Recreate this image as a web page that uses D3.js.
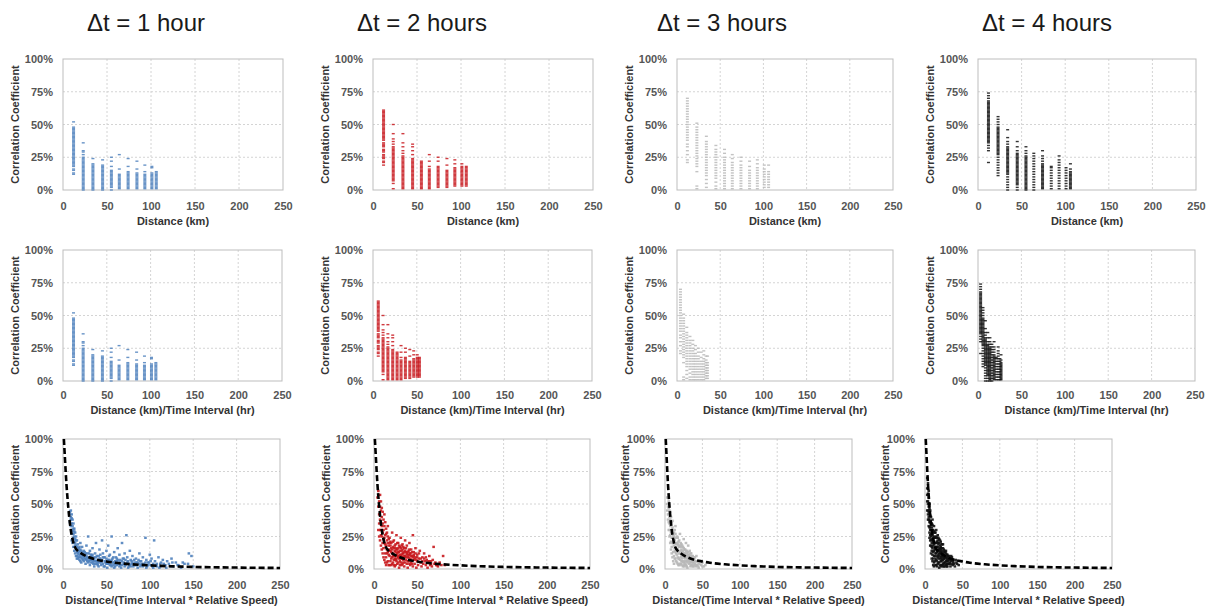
<!DOCTYPE html>
<html>
<head>
<meta charset="utf-8">
<script src="https://cdn.jsdelivr.net/npm/d3@7"></script>
<style>
  html, body { margin: 0; padding: 0; background: #fff; }
  svg { display: block; }
  .tick text { font-family: "Liberation Sans", Arial, sans-serif; font-size: 11px; font-weight: bold; fill: #555; }
  .axis-title { font-family: "Liberation Sans", Arial, sans-serif; font-size: 11px; font-weight: bold; fill: #333; }
  .col-title { font-family: "Liberation Sans", Arial, sans-serif; font-size: 24px; fill: #1a1a1a; }
</style>
</head>
<body>
<svg id="chart" width="1207" height="611"></svg>
<script>
// ---- data ---------------------------------------------------------------
const intervalsHr = [1, 2, 3, 4];
const columnTitles = ["Δt = 1 hour", "Δt = 2 hours", "Δt = 3 hours", "Δt = 4 hours"];
const seriesColors = ["#4f81bd", "#c8191e", "#b8b8b8", "#111111"];
const xTickValues = [0, 50, 100, 150, 200, 250];
const yTickValues = [0, 25, 50, 75, 100];
const yAxisTitle = "Correlation Coefficient";
const xAxisTitles = ["Distance (km)", "Distance (km)/Time Interval (hr)", "Distance/(Time Interval * Relative Speed)"];

// station separation distances (km)
const stationKm = [12, 23, 34, 45, 55, 64, 74, 84, 93, 101, 106];

// correlation coefficient (%) of each station pair, grouped by separation distance
const corr1h = [
  [12,13,15,16,18,19,20,21,22,23,24,25,26,27,28,29,30,31,32,33,34,35,36,37,38,39,40,41,42,43,44,45,46,47,48,52],
  [0,1,2,3,4,5,6,7,8,9,10,11,12,13,14,15,16,17,18,19,20,21,22,23,24,25,27,29,30,36],
  [0,1,2,3,4,5,6,7,8,9,10,11,12,13,14,15,16,17,18,19,20,24],
  [0,1,2,3,4,5,6,7,8,9,10,11,12,13,14,15,16,17,18,19,23],
  [0,2,3,4,5,6,7,8,9,10,11,12,13,14,15,18,22,25],
  [1,2,3,4,5,6,7,8,9,10,11,12,16,27],
  [1,2,3,4,5,6,7,8,9,10,11,12,13,14,18,24],
  [1,2,3,4,5,6,7,8,9,10,11,12,13,16,22],
  [1,2,3,4,5,6,7,8,9,10,11,12,14,19],
  [1,2,3,4,5,6,7,8,9,10,11,12,13,17,18],
  [1,2,3,4,5,6,7,8,9,10,11,12,13,14]
];
const corr2h = [
  [19,21,22,24,25,26,27,29,30,31,33,34,35,36,38,39,40,41,42,43,44,45,46,47,48,49,50,51,52,53,54,55,56,57,58,59,60,61],
  [1,5,7,8,9,10,11,12,13,14,15,16,17,18,19,20,21,22,23,24,25,26,27,28,29,30,31,32,33,35,37,39,43,50],
  [1,2,3,4,5,6,7,8,9,10,11,12,13,14,15,16,17,18,19,20,21,22,23,24,25,26,28,30,33,36,43],
  [1,2,3,4,5,6,7,8,9,10,11,12,13,14,15,16,17,18,19,20,21,22,23,24,27,30,33,35],
  [1,2,3,4,5,6,7,8,9,10,11,12,13,14,15,16,17,18,19,20,21,22],
  [1,2,3,4,5,6,7,8,9,10,11,12,13,14,15,16,18,22,27],
  [2,3,4,5,6,7,8,9,10,11,12,13,14,15,16,17,18,22,25],
  [2,3,4,5,6,7,8,9,10,11,12,13,14,15,19,24],
  [3,4,5,6,7,8,9,10,11,12,13,14,15,16,17,20,23],
  [3,4,5,6,7,8,9,10,11,12,13,14,15,16,17,18,20],
  [3,4,5,6,7,8,9,10,11,12,13,14,15,16,17,18]
];
const corr3h = [
  [21,23,27,30,33,35,38,40,42,44,46,48,50,52,54,56,58,60,62,64,66,68,70],
  [1,3,14,18,20,22,24,26,28,30,32,34,36,38,40,42,44,46,48,51],
  [2,5,8,11,13,15,17,19,21,23,25,27,29,31,33,35,37,41],
  [1,3,6,9,11,13,15,17,19,21,23,25,27,29,31,34],
  [1,3,5,7,9,11,13,15,17,19,21,23,25,28,31],
  [1,3,5,7,9,11,13,15,17,19,21,24,27],
  [1,3,5,7,9,11,13,15,17,19,22,25],
  [1,3,5,7,9,11,13,15,18,22],
  [1,3,5,7,9,11,13,15,17,20,23],
  [2,4,6,8,10,12,14,16,19],
  [2,4,6,8,10,12,14,19]
];
const corr4h = [
  [21,30,32,34,36,37,38,39,40,41,42,43,44,45,46,47,48,49,50,51,52,53,54,55,56,57,58,59,60,61,62,63,64,65,66,67,68,70,72,74],
  [11,13,15,17,19,21,23,25,27,28,29,30,31,32,33,34,35,36,37,38,39,40,41,42,43,44,45,46,47,48,50,52,54,56],
  [0,2,4,6,8,10,12,13,14,15,16,17,18,19,20,21,22,23,24,25,26,27,28,29,30,31,32,33,35,37,40,46],
  [0,2,4,5,6,7,8,9,10,11,12,13,14,15,16,17,18,19,20,21,22,23,24,25,26,27,28,30,33,37],
  [0,1,2,3,4,5,6,7,8,9,10,11,12,13,14,15,16,17,18,19,20,21,22,23,24,25,26,28,30,33],
  [0,2,4,6,8,10,12,14,16,18,20,22,24,26,28],
  [1,2,3,4,5,6,7,8,9,10,11,12,13,14,15,16,17,18,19,20,22,24,26,30],
  [1,3,5,7,9,11,13,15,17,18],
  [1,3,5,7,9,11,13,15,17,19,21,23,26],
  [1,3,5,7,9,11,13,15,17],
  [1,2,3,4,5,6,7,8,9,10,11,12,13,14,16,20]
];

// [distance/(interval * relative speed), correlation %]
const speedScaled1h = [
  [8,44],[9,40],[8,36],[10,42],[9,33],[11,38],[10,30],[12,35],[11,27],[13,31],[12,24],[14,28],[13,21],[15,25],[14,18],[16,22],[15,15],[17,19],[18,16],[16,13],
  [8,42],[9,45],[9,38],[10,35],[10,39],[11,33],[11,29],[12,31],[12,27],[13,25],[13,29],[14,23],[14,20],[15,18],[16,17],[17,15],[18,13],[19,17],[20,15],[21,9],
  [19,14],[20,20],[21,12],[22,17],[23,10],[24,14],[25,8],[26,12],[27,18],[28,9],[29,25],[30,6],[31,14],[32,11],[33,7],[34,16],[35,4],[36,9],[37,12],[38,20],
  [39,6],[40,3],[41,10],[42,15],[43,8],[44,5],[45,22],[46,12],[47,2],[48,9],[49,6],[50,14],[51,4],[52,18],[53,7],[54,11],[55,3],[56,25],[57,8],[58,5],
  [59,13],[60,2],[61,9],[62,6],[63,16],[64,4],[65,11],[66,7],[67,1],[68,20],[69,8],[70,5],[71,12],[72,3],[73,26],[74,9],[75,6],[76,2],[77,14],[78,7],
  [79,4],[80,10],[82,3],[84,8],[85,5],[86,1],[88,12],[89,6],[90,3],[92,9],[93,4],[95,24],[96,7],[97,2],[98,5],[100,11],[101,3],[102,8],[104,1],[105,22],
  [106,6],[108,4],[110,9],[112,2],[113,5],[115,7],[117,3],[119,1],[120,6],[122,4],[125,8],[127,2],[130,5],[133,3],[136,1],[140,4],[144,4],[145,12],[148,10],[150,2],
  [15,10],[16,8],[17,12],[18,9],[19,7],[20,11],[21,5],[22,8],[23,13],[24,6],[25,11],[26,4],[27,7],[28,12],[29,5],[30,9],[31,3],[32,7],[33,10],[34,5],
  [35,8],[36,2],[37,6],[38,9],[39,4],[40,7],[41,2],[42,5],[43,11],[44,3],[45,7],[46,4],[47,9],[48,2],[49,5],[50,8],[51,1],[52,4],[53,10],[54,3],
  [55,6],[56,2],[57,5],[58,9],[59,1],[60,4],[62,3],[63,7],[65,2],[66,5],[68,3],[70,8],[71,2],[73,4],[75,1],[77,3],[79,6],[81,2],[83,5],[85,3],
  [87,7],[89,2],[91,4],[94,3],[96,1],[99,5],[103,2],[107,3],[111,1],[116,4],[124,2],[132,3],[138,5],
  [10,22],[11,20],[12,17],[13,14],[14,12],[15,22],[16,10],[17,8],[18,11],[19,9],[20,6],[21,14],[22,11],[23,7],[24,9],[25,13],[26,8],[27,10],[28,6],[29,8],
  [30,12],[31,7],[32,5],[33,9],[34,11],[35,6],[36,7],[37,4],[38,6],[39,10],[40,5],[42,8],[44,6],[46,9],[48,6],[50,4],[52,7],[54,5],[56,7],[58,3],
  [60,6],[62,8],[64,5],[66,3],[68,6],[70,4],[72,7],[74,5],[76,4],[78,2],[80,5],[82,7],[84,3],[86,5],[88,4],[90,6],[92,2],[95,5],[98,3],[101,6],
  [104,4],[108,2],[112,4],[118,3],[126,5],[134,2]
];
const speedScaled2h = [
  [4,55],[5,60],[5,48],[6,52],[6,42],[7,57],[7,38],[8,45],[8,30],[9,40],[9,25],[10,35],[10,20],[11,30],[11,16],[12,42],[12,24],[13,19],[13,12],[14,27],
  [14,9],[15,22],[15,15],[16,33],[16,6],[17,18],[17,11],[18,24],[18,3],[19,14],[20,20],[20,8],[21,28],[21,12],[22,5],[22,17],[23,10],[23,22],[24,2],[24,14],
  [25,7],[25,19],[26,11],[26,26],[27,4],[27,15],[28,9],[28,20],[29,1],[29,13],[30,6],[30,17],[31,10],[31,24],[32,3],[32,14],[33,8],[33,19],[34,12],[34,5],
  [35,16],[35,2],[36,10],[36,22],[37,7],[37,13],[38,4],[38,18],[39,9],[39,1],[40,14],[40,6],[41,11],[41,20],[42,3],[42,8],[43,15],[43,5],[44,10],[45,26],
  [45,2],[46,7],[46,13],[47,4],[48,9],[48,16],[49,1],[50,6],[50,11],[51,3],[52,8],[53,14],[54,5],[55,2],[56,9],[57,4],[58,12],[59,6],[60,3],[61,7],
  [62,1],[63,5],[64,10],[65,3],[66,6],[67,2],[69,17],[70,4],[72,3],[74,2],[76,5],[78,3],[80,10],[82,3],
  [6,35],[7,30],[8,26],[9,33],[10,28],[11,23],[12,20],[13,26],[14,18],[15,12],[16,20],[17,15],[18,10],[19,21],[20,13],[21,9],[22,12],[23,7],[24,10],[25,13],
  [26,6],[27,10],[28,13],[29,8],[30,11],[31,5],[32,9],[33,12],[34,7],[35,10],[36,5],[37,9],[38,12],[39,6],[40,9],[41,4],[42,12],[43,7],[44,4],[46,10],
  [5,30],[6,25],[7,22],[7,48],[8,18],[8,52],[9,15],[9,47],[10,12],[10,44],[11,9],[11,38],[12,7],[12,33],[13,5],[13,36],[14,3],[14,31],[15,28],[15,5],
  [16,25],[16,13],[17,23],[17,3],[18,20],[18,14],[19,18],[19,6],[20,16],[20,3],[21,15],[21,4],[22,21],[22,10],[23,16],[23,3],[24,18],[24,8],[25,16],[25,3],
  [26,15],[26,8],[27,20],[27,12],[28,16],[28,5],[29,18],[29,10],[30,14],[30,3],[31,16],[31,8],[32,18],[32,11],[33,15],[33,4],[34,17],[34,9],[35,13],[36,14],
  [37,16],[38,11],[39,13],[40,11],[41,15],[42,12],[43,10],[44,13],[45,9],[46,11],[47,8],[48,12],[49,7],[50,9],[52,12],[54,8],[56,6],[58,8],[60,9],[62,5],
  [64,6],[66,4],[68,7],[71,5],[73,3]
];
const speedScaled3h = [
  [3,50],[4,55],[4,42],[5,47],[5,36],[6,40],[6,30],[7,44],[7,26],[8,34],[8,21],[9,30],[9,17],[10,37],[10,24],[11,20],[11,13],[12,28],[12,10],[13,22],
  [13,16],[14,33],[14,8],[15,19],[15,12],[16,25],[16,5],[17,15],[17,9],[18,21],[18,3],[19,12],[19,17],[20,7],[20,27],[21,14],[21,4],[22,10],[22,19],[23,6],
  [23,13],[24,2],[24,17],[25,9],[25,23],[26,5],[26,12],[27,8],[27,15],[28,3],[28,20],[29,10],[29,6],[30,13],[30,1],[31,8],[31,18],[32,4],[32,11],[33,7],
  [33,14],[34,2],[34,9],[35,5],[35,12],[36,3],[36,8],[37,10],[38,5],[38,2],[39,7],[40,4],[40,9],[41,2],[42,6],[43,3],[44,5],[45,1],[46,4],[48,3],
  [50,5],[52,2],[54,3],
  [5,42],[6,35],[7,33],[8,28],[9,24],[10,20],[11,26],[12,18],[13,14],[14,20],[15,16],[16,11],[17,19],[18,14],[19,8],[20,12],[21,17],[22,6],[23,10],[24,12],
  [25,6],[26,9],[27,11],[28,6],[29,14],[30,8],[31,11],[32,6],[33,10],[34,12],[35,8],[36,10],[37,5],[39,9],[41,6],[42,10],
  [3,55],[3,45],[4,48],[4,38],[5,52],[5,30],[6,45],[6,25],[7,38],[7,20],[8,40],[8,15],[9,36],[9,12],[10,32],[10,9],[11,30],[11,6],[12,25],[12,4],
  [13,30],[13,8],[14,27],[14,13],[15,24],[15,6],[16,20],[16,15],[17,24],[17,4],[18,18],[18,8],[19,22],[19,3],[20,18],[20,4],[21,20],[21,9],[22,15],[22,3],
  [23,18],[23,8],[24,14],[24,5],[25,16],[25,3],[26,15],[26,2],[27,12],[27,4],[28,14],[28,9],[29,12],[29,2],[30,10],[30,5],[31,13],[32,9],[33,5],[34,6],
  [35,3],[36,6],[37,2],[38,8],[39,3],[40,6],[42,3],[44,2],[46,6],[50,2]
];
const speedScaled4h = [
  [3,62],[3,52],[4,58],[4,45],[4,38],[5,55],[5,48],[5,33],[6,50],[6,42],[6,28],[7,45],[7,36],[7,22],[8,40],[8,30],[8,18],[9,35],[9,26],[9,14],
  [10,38],[10,22],[10,11],[11,30],[11,18],[11,8],[12,33],[12,25],[12,14],[12,5],[13,28],[13,20],[13,10],[14,24],[14,16],[14,3],[15,30],[15,12],[15,7],[16,21],
  [16,17],[16,2],[17,14],[17,9],[17,26],[18,19],[18,11],[18,5],[19,23],[19,15],[19,1],[20,12],[20,8],[20,18],[21,21],[21,6],[21,13],[22,10],[22,3],[22,16],
  [23,19],[23,7],[24,12],[24,4],[24,9],[25,15],[25,2],[26,8],[26,11],[27,5],[27,13],[28,3],[28,9],[29,6],[29,11],[30,2],[30,7],[31,10],[32,4],[33,8],
  [34,2],[35,6],[36,9],[37,3],[38,5],[40,2],[41,7],[43,4],[45,3],
  [4,50],[5,40],[6,36],[7,30],[8,25],[9,20],[10,30],[11,24],[12,19],[13,15],[14,12],[15,20],[16,13],[17,20],[18,15],[19,10],[20,14],[21,17],[22,8],[23,12],
  [24,16],[25,8],[26,13],[27,9],[28,12],[29,4],[30,9],[31,6],[32,8],[33,4],[35,10],[37,6],[39,4],
  [3,70],[3,57],[3,45],[4,66],[4,52],[4,42],[5,60],[5,44],[5,38],[6,46],[6,38],[6,32],[6,24],[7,41],[7,32],[7,26],[7,18],[8,35],[8,27],[8,22],
  [8,12],[9,32],[9,23],[9,17],[9,8],[10,34],[10,26],[10,16],[10,6],[11,28],[11,22],[11,13],[11,3],[12,29],[12,21],[12,10],[12,2],[13,24],[13,17],[13,6],
  [14,28],[14,20],[14,8],[15,25],[15,17],[15,3],[16,24],[16,10],[16,6],[17,22],[17,17],[17,4],[18,24],[18,14],[18,8],[19,20],[19,12],[19,5],[20,22],[20,16],
  [20,3],[21,15],[21,9],[21,2],[22,19],[22,13],[22,6],[23,14],[23,10],[23,3],[24,19],[24,7],[24,2],[25,11],[25,5],[26,14],[26,4],[27,10],[27,2],[28,14],
  [28,6],[29,8],[29,2],[30,11],[30,4],[31,7],[32,10],[33,5],[34,7],[36,4],[38,7],[42,5]
];

// fitted decay curve [scaled distance, correlation %]
const fitCurve = [
  [1,100],[2,88],[3,76],[4,65],[5,56],[6,48],[7,41],[8,35],[9,30],[10,26],[11,23],[12,20],[14,16.5],[17,14],[20,12.5],
  [25,10.5],[30,9],[40,7],[50,5.8],[60,4.8],[80,3.6],[100,2.8],[120,2.2],[150,1.6],[200,1.1],[250,0.8]
];

const byStation = [corr1h, corr2h, corr3h, corr4h];
const bySpeed = [speedScaled1h, speedScaled2h, speedScaled3h, speedScaled4h];

// ---- layout -------------------------------------------------------------
const rowY = [[59, 190], [250, 381], [439, 569]];
const rowX = [
  [[63, 283], [373, 593], [677, 893], [978, 1196]],
  [[63, 282], [373, 592], [677, 893], [978, 1195]],
  [[63, 280], [374, 590], [665, 852], [925, 1112]]
];
const titleCenters = [146, 422, 722, 1047];
const xTitleOffset = [35, 33, 35];

const svg = d3.select("#chart");

columnTitles.forEach((t, c) => {
  svg.append("text").attr("class", "col-title")
    .attr("x", titleCenters[c]).attr("y", 31)
    .attr("text-anchor", "middle").text(t);
});

function drawPanel(row, col) {
  const [x0, x1] = rowX[row][col];
  const [y0, y1] = rowY[row];
  const x = d3.scaleLinear().domain([0, 250]).range([x0, x1]);
  const y = d3.scaleLinear().domain([0, 100]).range([y1, y0]);
  const g = svg.append("g");
  const color = seriesColors[col];

  // gridlines
  g.selectAll(".vgrid").data(xTickValues.slice(1, -1)).join("line")
    .attr("x1", d => x(d)).attr("x2", d => x(d)).attr("y1", y0).attr("y2", y1)
    .attr("stroke", "#d4d4d4").attr("stroke-dasharray", "2,2");
  g.selectAll(".hgrid").data(yTickValues.slice(1, -1)).join("line")
    .attr("x1", x0).attr("x2", x1).attr("y1", d => y(d)).attr("y2", d => y(d))
    .attr("stroke", "#d4d4d4").attr("stroke-dasharray", "2,2");
  g.append("rect").attr("x", x0).attr("y", y0).attr("width", x1 - x0).attr("height", y1 - y0)
    .attr("fill", "none").attr("stroke", "#bdbdbd");

  // points
  let pts;
  if (row < 2) {
    const div = row === 0 ? 1 : intervalsHr[col];
    pts = byStation[col].flatMap((vals, i) => vals.map(v => [stationKm[i] / div, v]));
  } else {
    pts = bySpeed[col];
  }
  const w = row < 2 ? 3 : 2.6, h = row < 2 ? 1.4 : 2.4;
  g.append("g").selectAll("rect").data(pts).join("rect")
    .attr("x", d => x(d[0]) - w / 2).attr("y", d => y(d[1]) - h / 2)
    .attr("width", w).attr("height", h).attr("fill", color)
    .attr("fill-opacity", row < 2 ? 0.85 : 0.9);

  if (row === 2) {
    g.append("path").datum(fitCurve)
      .attr("d", d3.line().x(d => x(d[0])).y(d => y(d[1])).curve(d3.curveMonotoneX))
      .attr("fill", "none").attr("stroke", "#000").attr("stroke-width", 2.6)
      .attr("stroke-dasharray", "6,3");
  }

  // axes
  const ya = g.append("g").attr("transform", `translate(${x0},0)`)
    .call(d3.axisLeft(y).tickValues(yTickValues).tickFormat(d => d + "%").tickSize(0).tickPadding(10));
  ya.select(".domain").remove();
  const xa = g.append("g").attr("transform", `translate(0,${y1})`)
    .call(d3.axisBottom(x).tickValues(xTickValues).tickSize(0).tickPadding(row === 1 ? 10 : 12));
  xa.select(".domain").remove();

  // axis titles
  g.append("text").attr("class", "axis-title")
    .attr("x", (x0 + x1) / 2).attr("y", y1 + xTitleOffset[row])
    .attr("text-anchor", "middle").text(xAxisTitles[row]);

  const off = row === 2 && col >= 2 ? 40 : 48;
  g.append("text").attr("class", "axis-title")
    .attr("transform", `translate(${x0 - off},${(y0 + y1) / 2}) rotate(-90)`)
    .attr("dy", "0.35em").attr("text-anchor", "middle").text(yAxisTitle);
}

for (let r = 0; r < 3; r++) for (let c = 0; c < 4; c++) drawPanel(r, c);
</script>
</body>
</html>
